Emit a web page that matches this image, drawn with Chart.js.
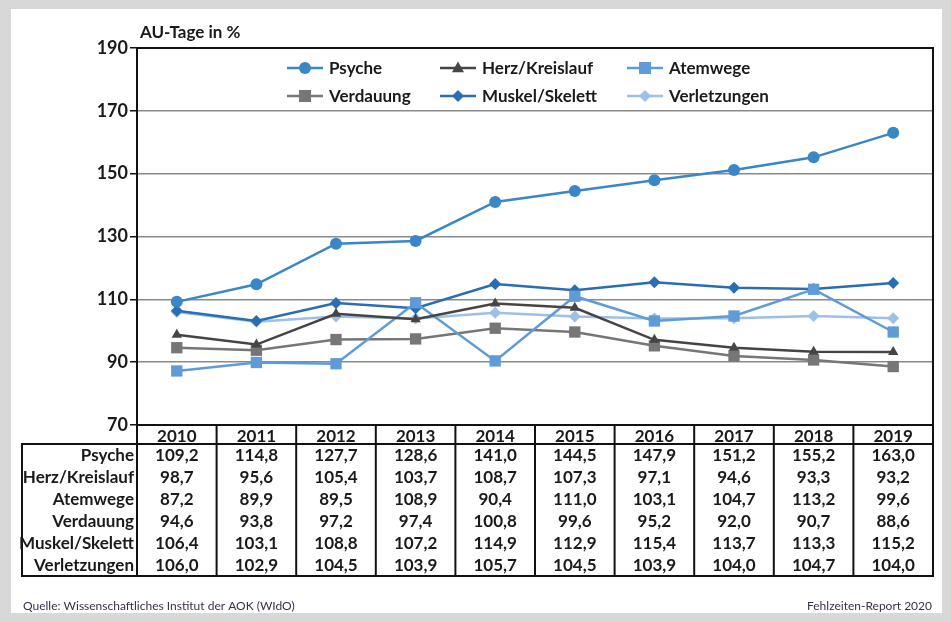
<!DOCTYPE html>
<html>
<head>
<meta charset="utf-8">
<script src="https://cdn.jsdelivr.net/npm/chart.js@4.4.0/dist/chart.umd.min.js"></script>
<style>
  html, body { margin: 0; padding: 0; background: #d8d8d8; }
  #wrap { width: 951px; height: 622px; position: relative; }
</style>
</head>
<body>
<div id="wrap"><canvas id="chart" width="951" height="622"></canvas></div>
<script>
// --- DATA ---
const years = ['2010', '2011', '2012', '2013', '2014', '2015', '2016', '2017', '2018', '2019'];
const psyche = [109.2, 114.8, 127.7, 128.6, 141.0, 144.5, 147.9, 151.2, 155.2, 163.0];
const herzKreislauf = [98.7, 95.6, 105.4, 103.7, 108.7, 107.3, 97.1, 94.6, 93.3, 93.2];
const atemwege = [87.2, 89.9, 89.5, 108.9, 90.4, 111.0, 103.1, 104.7, 113.2, 99.6];
const verdauung = [94.6, 93.8, 97.2, 97.4, 100.8, 99.6, 95.2, 92.0, 90.7, 88.6];
const muskelSkelett = [106.4, 103.1, 108.8, 107.2, 114.9, 112.9, 115.4, 113.7, 113.3, 115.2];
const verletzungen = [106.0, 102.9, 104.5, 103.9, 105.7, 104.5, 103.9, 104.0, 104.7, 104.0];

const FONT = 'Lato, "Open Sans", sans-serif';

// order = row order in the table
const series = [
    { label: 'Psyche', data: psyche, color: '#3a86c6', style: 'circle', r: 6 },
    { label: 'Herz/Kreislauf', data: herzKreislauf, color: '#454545', style: 'triangle', r: 6 },
    { label: 'Atemwege', data: atemwege, color: '#5f9bd6', style: 'rect', r: 8 },
    { label: 'Verdauung', data: verdauung, color: '#767676', style: 'rect', r: 8 },
    { label: 'Muskel/Skelett', data: muskelSkelett, color: '#2a6db2', style: 'rectRot', r: 6 },
    { label: 'Verletzungen', data: verletzungen, color: '#9cc0e6', style: 'rectRot', r: 6 },
];

// legend layout slots: [lineStartX, rowY]
const legendSlots = [[287, 68], [440, 68], [627, 68], [287, 96], [440, 96], [627, 96]];

const fmt = v => v.toFixed(1).replace('.', ',');

function drawMarker(ctx, style, x, y, r, color) {
    ctx.save();
    ctx.fillStyle = color;
    ctx.beginPath();
    if (style === 'circle') {
        ctx.arc(x, y, r, 0, Math.PI * 2);
    } else if (style === 'triangle') {
        ctx.moveTo(x, y - r * 1.1);
        ctx.lineTo(x + r, y + r * 0.7);
        ctx.lineTo(x - r, y + r * 0.7);
        ctx.closePath();
    } else if (style === 'rect') {
        ctx.rect(x - r * 0.75, y - r * 0.75, r * 1.5, r * 1.5);
    } else {
        ctx.moveTo(x, y - r);
        ctx.lineTo(x + r, y);
        ctx.lineTo(x, y + r);
        ctx.lineTo(x - r, y);
        ctx.closePath();
    }
    ctx.fill();
    ctx.restore();
}

const framePlugin = {
    id: 'frame',
    beforeDraw(chart) {
        const ctx = chart.ctx;
        ctx.save();
        ctx.fillStyle = '#d8d8d8';
        ctx.fillRect(0, 0, 951, 622);
        ctx.fillStyle = '#ffffff';
        ctx.fillRect(11, 9, 931, 604);
        ctx.restore();
    },
    afterDraw(chart) {
        const ctx = chart.ctx;
        const a = chart.chartArea;
        const xs = chart.scales.x;
        ctx.save();

        // plot border (top + right)
        ctx.strokeStyle = '#111';
        ctx.lineWidth = 2;
        ctx.beginPath();
        ctx.moveTo(a.left, a.top);
        ctx.lineTo(a.right, a.top);
        ctx.lineTo(a.right, a.bottom);
        ctx.stroke();

        // title
        ctx.fillStyle = '#1a1a1a';
        ctx.font = 'bold 17px ' + FONT;
        ctx.textAlign = 'left';
        ctx.textBaseline = 'middle';
        ctx.fillText('AU-Tage in %', 140, 33);

        // legend
        ctx.font = 'bold 17px ' + FONT;
        series.forEach((s, i) => {
            const [lx, ly] = legendSlots[i];
            ctx.strokeStyle = s.color;
            ctx.lineWidth = 2.5;
            ctx.beginPath();
            ctx.moveTo(lx, ly);
            ctx.lineTo(lx + 36, ly);
            ctx.stroke();
            drawMarker(ctx, s.style, lx + 18, ly, s.r, s.color);
            ctx.fillStyle = '#1a1a1a';
            ctx.fillText(s.label, lx + 42, ly + 1);
        });

        // table
        const headTop = a.bottom;
        const tableTop = 444;
        const rowH = 22;
        const tableBottom = tableTop + rowH * series.length;
        const colW = (a.right - a.left) / years.length;
        const tableLeft = 22;

        ctx.strokeStyle = '#111';
        ctx.lineWidth = 2;
        // column separators in header + body
        for (let i = 0; i <= years.length; i++) {
            const x = a.left + i * colW;
            ctx.beginPath();
            ctx.moveTo(x, headTop);
            ctx.lineTo(x, tableBottom);
            ctx.stroke();
        }
        // body frame
        ctx.strokeRect(tableLeft, tableTop, a.right - tableLeft, tableBottom - tableTop);

        ctx.font = 'bold 17px ' + FONT;
        ctx.fillStyle = '#1a1a1a';
        series.forEach((s, r) => {
            const y = tableTop + rowH * r + rowH / 2 + 1;
            ctx.textAlign = 'right';
            ctx.fillText(s.label, a.left - 3, y);
            ctx.textAlign = 'center';
            s.data.forEach((v, c) => {
                ctx.fillText(fmt(v), xs.getPixelForValue(c), y);
            });
        });

        // footer
        ctx.font = '12px ' + FONT;
        ctx.fillStyle = '#3c3049';
        ctx.textAlign = 'left';
        ctx.fillText('Quelle: Wissenschaftliches Institut der AOK (WIdO)', 23, 606);
        ctx.textAlign = 'right';
        ctx.fillText('Fehlzeiten-Report 2020', 932, 606);
        ctx.restore();
    }
};

new Chart(document.getElementById('chart'), {
    type: 'line',
    data: {
        labels: years,
        datasets: series.map(s => ({
            label: s.label,
            data: s.data,
            borderColor: s.color,
            backgroundColor: s.color,
            borderWidth: 2.5,
            pointStyle: s.style,
            pointRadius: s.r,
            pointBorderWidth: 0,
            tension: 0,
        }))
    },
    options: {
        responsive: false,
        animation: false,
        layout: { padding: { left: 0, right: 18, top: 48, bottom: 0 } },
        plugins: { legend: { display: false }, tooltip: { enabled: false } },
        scales: {
            x: {
                offset: true,
                afterFit: s => { s.height = 622 - 48 - 377; },
                grid: { display: false, drawTicks: false },
                border: { display: true, color: '#111', width: 2 },
                ticks: { color: '#1a1a1a', padding: 1, font: { family: FONT, size: 17, weight: 'bold' } }
            },
            y: {
                min: 70, max: 190,
                afterFit: s => { s.width = 137; },
                grid: { color: '#8a8a8a', lineWidth: 1.5, tickColor: '#111', tickLength: 7 },
                border: { display: true, color: '#111', width: 2 },
                ticks: { stepSize: 20, color: '#1a1a1a', padding: 2, font: { family: FONT, size: 18, weight: 'bold' } }
            }
        }
    },
    plugins: [framePlugin]
});
</script>
</body>
</html>
